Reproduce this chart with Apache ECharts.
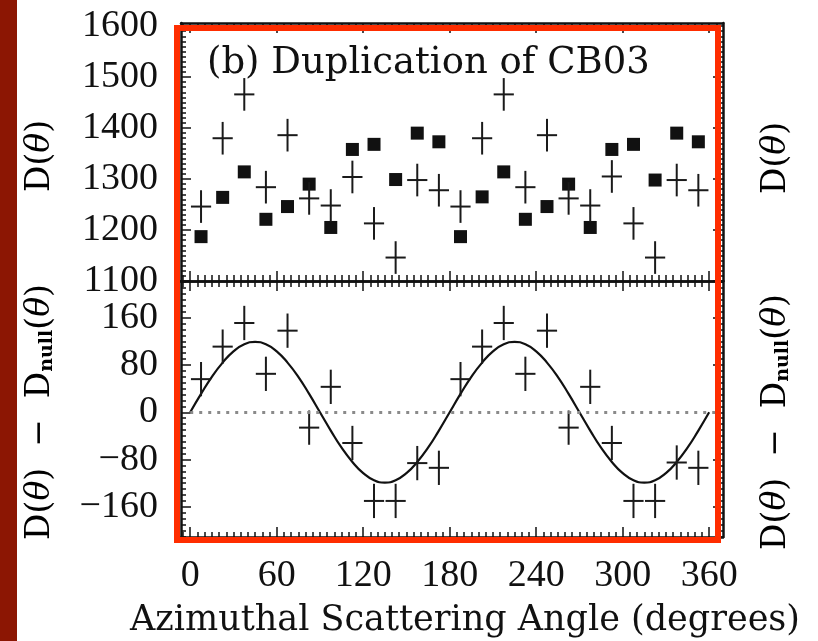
<!DOCTYPE html>
<html>
<head>
<meta charset="utf-8">
<script src="https://cdn.jsdelivr.net/npm/echarts@6/dist/echarts.min.js"></script>
<style>html,body{margin:0;padding:0;background:#fff;}#c{width:818px;height:641px;}</style>
</head>
<body>
<div id="c"></div>
<script>
// ---- data ----
const xTicks = [0, 60, 120, 180, 240, 300, 360];
const topTicks = [1100, 1200, 1300, 1400, 1500, 1600];
const botTicks = [-160, -80, 0, 80, 160];

const angles = [7.5, 22.5, 37.5, 52.5, 67.5, 82.5, 97.5, 112.5, 127.5, 142.5, 157.5, 172.5,
                187.5, 202.5, 217.5, 232.5, 247.5, 262.5, 277.5, 292.5, 307.5, 322.5, 337.5, 352.5];
// filled squares (top panel)
const squareVals = [1187, 1264, 1314, 1221, 1246, 1290, 1205, 1358, 1368, 1299, 1390, 1373,
                    1187, 1265, 1314, 1221, 1246, 1290, 1205, 1358, 1368, 1298, 1390, 1373];
// crosses (top panel)
const crossVals = [1246, 1380, 1466, 1284, 1386, 1262, 1248, 1304, 1213, 1146, 1298, 1278,
                   1246, 1380, 1466, 1284, 1386, 1262, 1248, 1305, 1213, 1146, 1298, 1278];
// difference D - Dnull (bottom panel)
const diffVals = [56, 111, 151, 65, 138, -26, 43, -52, -150, -150, -86, -94,
                  56, 111, 151, 65, 138, -26, 43, -52, -150, -150, -85, -94];
const topErr = 32;     // vertical half-length of top crosses (D units)
const botErr = 29;     // vertical half-length of bottom crosses
const binHalf = 7;     // horizontal half-width of crosses (degrees)

// fitted modulation curve, read at 7.5 degree steps
const curveAngles = [0, 7.5, 15, 22.5, 30, 37.5, 45, 52.5, 60, 67.5, 75, 82.5,
                     90, 97.5, 105, 112.5, 120, 127.5, 135, 142.5, 150, 157.5, 165, 172.5,
                     180, 187.5, 195, 202.5, 210, 217.5, 225, 232.5, 240, 247.5, 255, 262.5,
                     270, 277.5, 285, 292.5, 300, 307.5, 315, 322.5, 330, 337.5, 345, 352.5, 360];
const curveVals = [0, 31, 60, 84, 103, 115, 119, 115, 103, 84, 60, 31,
                   0, -31, -60, -84, -103, -115, -119, -115, -103, -84, -60, -31,
                   0, 31, 60, 84, 103, 115, 119, 115, 103, 84, 60, 31,
                   0, -31, -60, -84, -103, -115, -119, -115, -103, -84, -60, -31, 0];

// ---- chart ----
const X_MIN = -6.4, X_MAX = 369.6;
const TOP_MIN = 1100, TOP_MAX = 1606;
const BOT_MIN = -211, BOT_MAX = 222;

function range(a, b, s) { const r = []; for (let v = a; v <= b + 1e-9; v += s) r.push(v); return r; }
const xMinor = range(-5, 365, 5);
const topMinor = range(1100, 1600, 10);
const botMinor = range(-210, 220, 10);

const INK = '#111';
const tickFont = 'Liberation Serif';
const fmt = v => String(v).replace('-', '\u2212');

function ax(grid, pos, min, max, ticks, len, opts) {
  opts = opts || {};
  return {
    type: 'value', gridIndex: grid, position: pos, min: min, max: max,
    axisLine: { show: !!opts.line, onZero: false, lineStyle: { color: INK, width: 2.5 } },
    axisTick: { show: true, inside: true, length: len, customValues: ticks,
                lineStyle: { color: INK, width: 1.5 } },
    axisLabel: opts.labels ? { show: true, customValues: opts.labels, formatter: fmt,
                fontFamily: tickFont, fontSize: 38, color: INK, margin: opts.margin || 22 }
               : { show: false },
    splitLine: { show: false },
    minorTick: { show: false }
  };
}

const xAxis = [
  ax(0, 'bottom', X_MIN, X_MAX, xTicks, 10, { line: true }),
  ax(0, 'top', X_MIN, X_MAX, xTicks, 10, { line: true }),
  ax(0, 'bottom', X_MIN, X_MAX, xMinor, 6),
  ax(0, 'top', X_MIN, X_MAX, xMinor, 5),
  ax(1, 'bottom', X_MIN, X_MAX, xTicks, 10, { line: true, labels: xTicks, margin: 20 }),
  ax(1, 'top', X_MIN, X_MAX, xTicks, 10, { line: true }),
  ax(1, 'bottom', X_MIN, X_MAX, xMinor, 5),
  ax(1, 'top', X_MIN, X_MAX, xMinor, 6)
];
const yAxis = [
  ax(0, 'left', TOP_MIN, TOP_MAX, topTicks, 10, { line: true, labels: topTicks, margin: 23 }),
  ax(0, 'right', TOP_MIN, TOP_MAX, topTicks, 10, { line: true }),
  ax(0, 'left', TOP_MIN, TOP_MAX, topMinor, 5),
  ax(0, 'right', TOP_MIN, TOP_MAX, topMinor, 5),
  ax(1, 'left', BOT_MIN, BOT_MAX, botTicks, 10, { line: true, labels: botTicks, margin: 23 }),
  ax(1, 'right', BOT_MIN, BOT_MAX, botTicks, 10, { line: true }),
  ax(1, 'left', BOT_MIN, BOT_MAX, botMinor, 5),
  ax(1, 'right', BOT_MIN, BOT_MAX, botMinor, 5)
];

function crossRender(params, api) {
  const x = api.value(0), y = api.value(1), ey = api.value(2), ex = api.value(3);
  const l = api.coord([x - ex, y]), r = api.coord([x + ex, y]);
  const t = api.coord([x, y + ey]), b = api.coord([x, y - ey]);
  const st = { stroke: '#1a1a1a', lineWidth: 2 };
  return { type: 'group', children: [
    { type: 'line', shape: { x1: l[0], y1: l[1], x2: r[0], y2: r[1] }, style: st },
    { type: 'line', shape: { x1: t[0], y1: t[1], x2: b[0], y2: b[1] }, style: st }
  ]};
}

const topCross = angles.map((a, i) => [a, crossVals[i], topErr, binHalf]);
const botCross = angles.map((a, i) => [a, diffVals[i], botErr, binHalf]);
const squares = angles.map((a, i) => [a, squareVals[i]]);
const curve = curveAngles.map((a, i) => [a, curveVals[i]]);

const serif = 'DejaVu Serif';
const titleRich = {
  n: { fontFamily: serif, fontSize: 33, color: INK },
  i: { fontFamily: serif, fontStyle: 'italic', fontSize: 33, color: INK },
  s: { fontFamily: serif, fontSize: 19, fontWeight: 'bold', color: INK, verticalAlign: 'bottom', lineHeight: 30, padding: [14, 0, 0, 0] }
};
const yTitle1 = '{n|D(}{i|\u03b8}{n|)}';
const yTitle2 = '{n|D(}{i|\u03b8}{n|)  \u2212  D}{s|null}{n|(}{i|\u03b8}{n|)}';

function vtext(x, y, txt) {
  return { type: 'text', x: x, y: y, rotation: Math.PI / 2, z: 50,
    style: { text: txt, rich: titleRich, align: 'center', verticalAlign: 'middle' } };
}

const option = {
  animation: false,
  backgroundColor: '#ffffff',
  grid: [
    { left: 181, top: 23, width: 542, height: 258 },
    { left: 181, top: 281, width: 542, height: 256 }
  ],
  xAxis: xAxis,
  yAxis: yAxis,
  series: [
    { type: 'scatter', xAxisIndex: 0, yAxisIndex: 0, data: squares, symbol: 'rect',
      symbolSize: 13, itemStyle: { color: INK, opacity: 1 }, z: 3 },
    { type: 'custom', xAxisIndex: 0, yAxisIndex: 0, data: topCross, renderItem: crossRender, z: 4 },
    { type: 'custom', xAxisIndex: 4, yAxisIndex: 4, data: botCross, renderItem: crossRender, z: 4 },
    { type: 'line', xAxisIndex: 4, yAxisIndex: 4, data: curve, smooth: true, showSymbol: false,
      lineStyle: { color: INK, width: 2.2 }, z: 3,
      markLine: { silent: true, symbol: 'none', label: { show: false },
        lineStyle: { color: '#8a8a8a', type: [3, 6], width: 3 },
        data: [[{ coord: [0, 0] }, { coord: [364, 0] }]] } }
  ],
  graphic: [
    { type: 'rect', shape: { x: 0, y: 0, width: 17, height: 641 }, style: { fill: '#8C1603' }, z: 40 },
    { type: 'text', x: 207, y: 63, z: 50,
      style: { text: '(b) Duplication of CB03', fontFamily: serif, fontSize: 37, fill: INK,
               align: 'left', verticalAlign: 'middle' } },
    vtext(40, 156, yTitle1),
    vtext(40, 412, yTitle2),
    vtext(776, 158, yTitle1),
    vtext(776, 422, yTitle2),
    { type: 'text', x: 465, y: 621, z: 50,
      style: { text: 'Azimuthal Scattering Angle (degrees)', fontFamily: serif, fontSize: 35,
               fill: INK, align: 'center', verticalAlign: 'middle' } },
    { type: 'rect', shape: { x: 177, y: 28, width: 541, height: 512 },
      style: { fill: 'none', stroke: '#FF2D00', lineWidth: 6 }, z: 100 }
  ]
};

const chart = echarts.init(document.getElementById('c'), null, { renderer: 'canvas' });
chart.setOption(option);
</script>
</body>
</html>
